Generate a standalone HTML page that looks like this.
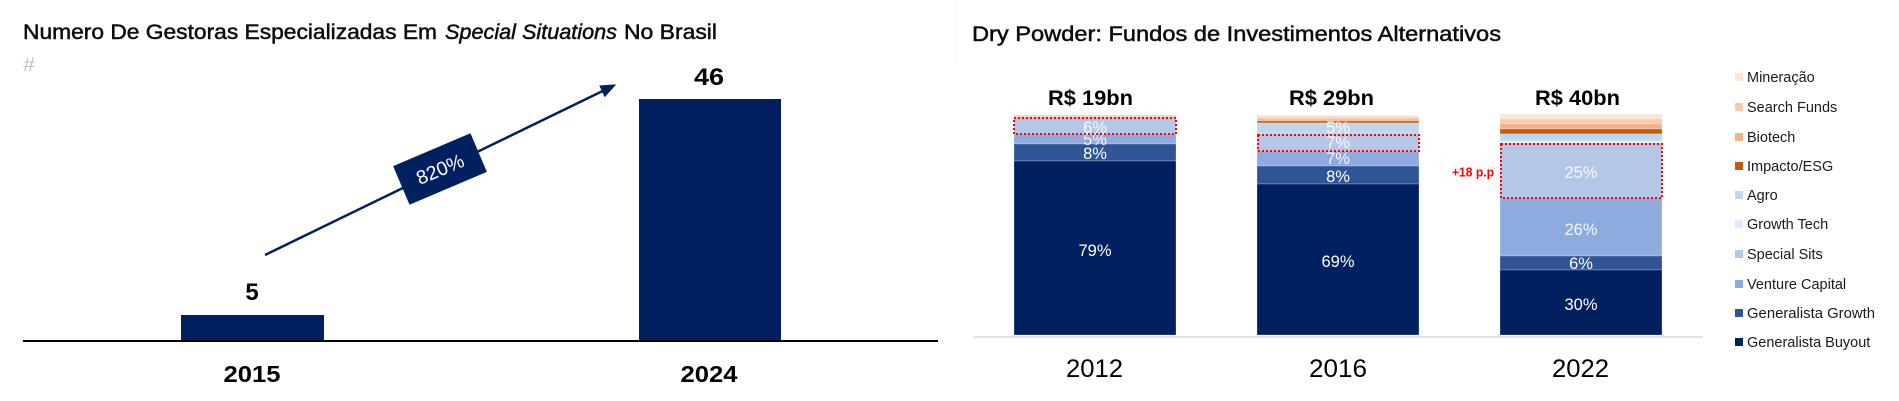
<!DOCTYPE html>
<html>
<head>
<meta charset="utf-8">
<style>
html,body{margin:0;padding:0;background:#fff;}
body{width:1899px;height:401px;overflow:hidden;}
svg{display:block;font-family:"Liberation Sans",Arial,sans-serif;}
</style>
</head>
<body>
<svg width="1899" height="401" viewBox="0 0 1899 401" xmlns="http://www.w3.org/2000/svg">
  <rect width="1899" height="401" fill="#fff"/>

  <!-- ============ LEFT CHART ============ -->
  <text x="23" y="39" font-size="21" fill="#0d0d0d" stroke="#0d0d0d" stroke-width="0.5" textLength="414" lengthAdjust="spacingAndGlyphs">Numero De Gestoras Especializadas Em</text>
  <text x="445" y="39" font-size="21" font-style="italic" fill="#0d0d0d" stroke="#0d0d0d" stroke-width="0.5" textLength="172" lengthAdjust="spacingAndGlyphs">Special Situations</text>
  <text x="624" y="39" font-size="21" fill="#0d0d0d" stroke="#0d0d0d" stroke-width="0.5" textLength="93" lengthAdjust="spacingAndGlyphs">No Brasil</text>
  <text x="23" y="71" font-size="19" fill="#c0c0c0" textLength="12" lengthAdjust="spacingAndGlyphs">#</text>

  <!-- bars -->
  <rect x="181" y="315" width="143" height="26" fill="#002060"/>
  <rect x="639" y="99" width="142" height="242" fill="#002060"/>
  <!-- axis -->
  <line x1="23" y1="341" x2="938" y2="341" stroke="#000" stroke-width="2"/>

  <!-- value labels -->
  <text x="252" y="300" font-size="24" font-weight="bold" fill="#000" text-anchor="middle">5</text>
  <text x="709" y="85" font-size="24" font-weight="bold" fill="#000" text-anchor="middle" textLength="30" lengthAdjust="spacingAndGlyphs">46</text>
  <!-- x labels -->
  <text x="252" y="382" font-size="23" font-weight="bold" fill="#000" text-anchor="middle" textLength="57" lengthAdjust="spacingAndGlyphs">2015</text>
  <text x="709" y="382" font-size="23" font-weight="bold" fill="#000" text-anchor="middle" textLength="57" lengthAdjust="spacingAndGlyphs">2024</text>

  <!-- arrow -->
  <line x1="265" y1="255" x2="602.4" y2="91.1" stroke="#002060" stroke-width="2.5"/>
  <polygon points="615,85 604.8,96.3 600,86" fill="#002060" stroke="#002060" stroke-width="1"/>

  <!-- 820% box -->
  <g transform="translate(440,169) rotate(-23)">
    <rect x="-42" y="-21" width="84" height="42" fill="#002060"/>
    <text x="0" y="7" font-size="19.5" fill="#fff" text-anchor="middle">820%</text>
  </g>

  <!-- faint divider -->
  <line x1="956" y1="0" x2="956" y2="60" stroke="#f3f3f3" stroke-width="1"/>

  <!-- ============ RIGHT CHART ============ -->
  <text x="972" y="41" font-size="21" fill="#0d0d0d" stroke="#0d0d0d" stroke-width="0.5" textLength="529" lengthAdjust="spacingAndGlyphs">Dry Powder: Fundos de Investimentos Alternativos</text>

  <!-- 2012 bar -->
  <g stroke="#ffffff" stroke-width="0.4" stroke-opacity="0.6">
    <rect x="1014" y="115" width="162" height="2" fill="#F8CBAD"/>
    <rect x="1014" y="117" width="162" height="17" fill="#B4C7E7"/>
    <rect x="1014" y="134" width="162" height="10" fill="#8FAADC"/>
    <rect x="1014" y="144" width="162" height="17" fill="#2F5597"/>
    <rect x="1014" y="161" width="162" height="174" fill="#002060"/>
  </g>
  <!-- 2016 bar -->
  <g stroke="#ffffff" stroke-width="0.4" stroke-opacity="0.6">
    <rect x="1257" y="115" width="162" height="2" fill="#FBE5D6"/>
    <rect x="1257" y="117" width="162" height="2" fill="#F8CBAD"/>
    <rect x="1257" y="119" width="162" height="2" fill="#F4B183"/>
    <rect x="1257" y="121" width="162" height="2" fill="#C55A11"/>
    <rect x="1257" y="123" width="162" height="11" fill="#BDD7EE"/>
    <rect x="1257" y="134" width="162" height="17" fill="#B4C7E7"/>
    <rect x="1257" y="151" width="162" height="15" fill="#8FAADC"/>
    <rect x="1257" y="166" width="162" height="18" fill="#2F5597"/>
    <rect x="1257" y="184" width="162" height="151" fill="#002060"/>
  </g>
  <!-- 2022 bar -->
  <g stroke="#ffffff" stroke-width="0.4" stroke-opacity="0.6">
    <rect x="1500" y="114" width="162" height="5" fill="#FBE5D6"/>
    <rect x="1500" y="119" width="162" height="5" fill="#F8CBAD"/>
    <rect x="1500" y="124" width="162" height="5" fill="#F4B183"/>
    <rect x="1500" y="129" width="162" height="5" fill="#C55A11"/>
    <rect x="1500" y="134" width="162" height="7" fill="#BDD7EE"/>
    <rect x="1500" y="141" width="162" height="2" fill="#DEEBF7"/>
    <rect x="1500" y="143" width="162" height="55" fill="#B4C7E7"/>
    <rect x="1500" y="198" width="162" height="58" fill="#8FAADC"/>
    <rect x="1500" y="256" width="162" height="14" fill="#2F5597"/>
    <rect x="1500" y="270" width="162" height="65" fill="#002060"/>
  </g>

  <!-- right axis -->
  <line x1="973" y1="337" x2="1703" y2="337" stroke="#d9d9d9" stroke-width="1.5"/>

  <!-- percentage labels -->
  <g font-size="16.5" fill="#ffffff" text-anchor="middle">
    <text x="1095" y="133" fill-opacity="0.9">6%</text>
    <text x="1095" y="145" fill-opacity="0.9">5%</text>
    <text x="1095" y="159">8%</text>
    <text x="1095" y="256">79%</text>

    <text x="1338" y="133" fill-opacity="0.9">5%</text>
    <text x="1338" y="148" fill-opacity="0.9">7%</text>
    <text x="1338" y="164" fill-opacity="0.9">7%</text>
    <text x="1338" y="182">8%</text>
    <text x="1338" y="267">69%</text>

    <text x="1581" y="178" fill-opacity="0.9">25%</text>
    <text x="1581" y="235" fill-opacity="0.9">26%</text>
    <text x="1581" y="269">6%</text>
    <text x="1581" y="310">30%</text>
  </g>

  <!-- red dotted boxes -->
  <g fill="none" stroke="#ff0000" stroke-width="2" stroke-dasharray="2,2">
    <rect x="1014" y="118" width="162" height="16"/>
    <rect x="1258" y="135" width="161" height="16"/>
    <rect x="1501" y="144" width="161" height="54"/>
  </g>
  <text x="1452" y="176.5" font-size="12.5" font-weight="bold" fill="#ff0000" textLength="42" lengthAdjust="spacingAndGlyphs">+18 p.p</text>

  <!-- totals -->
  <text x="1090.5" y="105" font-size="21.5" font-weight="bold" fill="#000" text-anchor="middle" textLength="85" lengthAdjust="spacingAndGlyphs">R$ 19bn</text>
  <text x="1331.5" y="105" font-size="21.5" font-weight="bold" fill="#000" text-anchor="middle" textLength="85" lengthAdjust="spacingAndGlyphs">R$ 29bn</text>
  <text x="1577.5" y="105" font-size="21.5" font-weight="bold" fill="#000" text-anchor="middle" textLength="85" lengthAdjust="spacingAndGlyphs">R$ 40bn</text>

  <!-- x labels -->
  <text x="1094.5" y="377" font-size="25" fill="#000" text-anchor="middle" textLength="57" lengthAdjust="spacingAndGlyphs">2012</text>
  <text x="1338" y="377" font-size="25" fill="#000" text-anchor="middle" textLength="58" lengthAdjust="spacingAndGlyphs">2016</text>
  <text x="1580.5" y="377" font-size="25" fill="#000" text-anchor="middle" textLength="57" lengthAdjust="spacingAndGlyphs">2022</text>

  <!-- legend -->
  <g font-size="14.5" fill="#1a1a1a">
    <rect x="1735" y="73" width="8" height="8" fill="#FBE5D6"/>
    <text x="1747" y="82">Mineração</text>
    <rect x="1735" y="103" width="8" height="8" fill="#F8CBAD"/>
    <text x="1747" y="112">Search Funds</text>
    <rect x="1735" y="133" width="8" height="8" fill="#F4B183"/>
    <text x="1747" y="142">Biotech</text>
    <rect x="1735" y="162" width="8" height="8" fill="#C55A11"/>
    <text x="1747" y="171">Impacto/ESG</text>
    <rect x="1735" y="191" width="8" height="8" fill="#BDD7EE"/>
    <text x="1747" y="200">Agro</text>
    <rect x="1735" y="220" width="8" height="8" fill="#DEEBF7"/>
    <text x="1747" y="229">Growth Tech</text>
    <rect x="1735" y="250" width="8" height="8" fill="#B4C7E7"/>
    <text x="1747" y="259">Special Sits</text>
    <rect x="1735" y="280" width="8" height="8" fill="#8FAADC"/>
    <text x="1747" y="289">Venture Capital</text>
    <rect x="1735" y="309" width="8" height="8" fill="#2F5597"/>
    <text x="1747" y="318" textLength="128" lengthAdjust="spacingAndGlyphs">Generalista Growth</text>
    <rect x="1735" y="338" width="8" height="8" fill="#002060"/>
    <text x="1747" y="347">Generalista Buyout</text>
  </g>
</svg>
</body>
</html>
